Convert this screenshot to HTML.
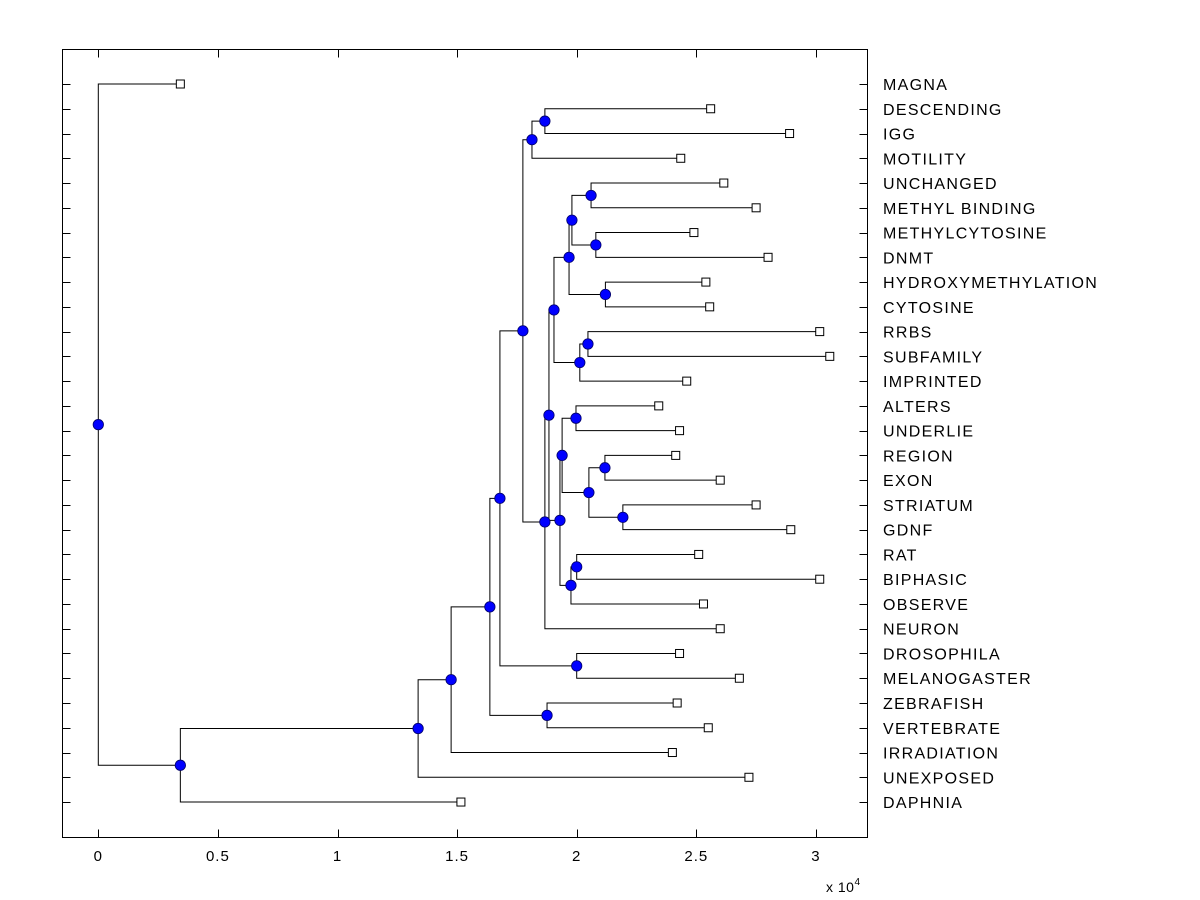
<!DOCTYPE html>
<html><head><meta charset="utf-8"><style>
body{margin:0;background:#fff;}
svg{display:block;font-family:"Liberation Sans",Arial,sans-serif;}
</style></head><body>
<svg id="chart" width="1200" height="900" viewBox="0 0 1200 900">
<rect x="0" y="0" width="1200" height="900" fill="#fff"/>
<g id="ticks"></g>
<g id="tree"></g>
<g id="marks"></g>
<g id="labels"></g>
<rect x="62.5" y="49.5" width="805" height="788" fill="none" stroke="#000" stroke-width="1"/>
<text x="826" y="892" font-size="14" letter-spacing="0.5">x 10<tspan font-size="10" dy="-7">4</tspan></text>
</svg>
<script>
const leafNames=["MAGNA","DESCENDING","IGG","MOTILITY","UNCHANGED","METHYL BINDING","METHYLCYTOSINE","DNMT","HYDROXYMETHYLATION","CYTOSINE","RRBS","SUBFAMILY","IMPRINTED","ALTERS","UNDERLIE","REGION","EXON","STRIATUM","GDNF","RAT","BIPHASIC","OBSERVE","NEURON","DROSOPHILA","MELANOGASTER","ZEBRAFISH","VERTEBRATE","IRRADIATION","UNEXPOSED","DAPHNIA"];
const leafDist=[0.343,2.56,2.89,2.435,2.615,2.75,2.49,2.80,2.54,2.556,3.016,3.058,2.46,2.343,2.43,2.414,2.60,2.75,2.895,2.51,3.016,2.53,2.60,2.43,2.68,2.42,2.55,2.40,2.72,1.516];
const nodeChildren=[[1,2],[30,3],[4,5],[6,7],[32,33],[8,9],[34,35],[10,11],[37,12],[36,38],[13,14],[15,16],[17,18],[41,42],[40,43],[19,20],[45,21],[44,46],[39,47],[48,22],[31,49],[23,24],[50,51],[25,26],[52,53],[54,27],[55,28],[56,29],[0,57]];
const nodeDist=[1.867,1.813,2.06,2.08,1.98,2.12,1.968,2.047,2.013,1.905,1.997,2.118,2.193,2.051,1.939,2.0,1.976,1.93,1.884,1.867,1.775,2.0,1.679,1.876,1.637,1.475,1.337,0.343,0];
const xTicks=[0,0.5,1,1.5,2,2.5,3];
const xTickLabels=["0","0.5","1","1.5","2","2.5","3"];

const NS="http://www.w3.org/2000/svg";
const X0=98.3,XS=239.2,Y0=84,YS=24.76,LEFT=62.5,RIGHT=867.5,TOP=49.5,BOT=837.5;
const xs=v=>X0+v*XS;
const yl=i=>Y0+i*YS;
function mk(tag,attrs,parent){const e=document.createElementNS(NS,tag);for(const k in attrs)e.setAttribute(k,attrs[k]);parent.appendChild(e);return e;}
const gT=document.getElementById('ticks'),gB=document.getElementById('tree'),gM=document.getElementById('marks'),gL=document.getElementById('labels');

leafNames.forEach((n,i)=>{
  const y=Math.round(yl(i))+0.5;
  let t=mk('line',{x1:LEFT,y1:y,x2:LEFT+8,y2:y,stroke:'#000'},gT);
  
  
  t=mk('line',{x1:RIGHT-8,y1:y,x2:RIGHT,y2:y,stroke:'#000'},gT);
  
  
  const tx=mk('text',{x:883,y:yl(i)+6,'font-size':16,'letter-spacing':1.3},gL);
  tx.textContent=n;
  
  
});
xTicks.forEach((v,i)=>{
  const x=Math.round(xs(v))+0.5;
  let t=mk('line',{x1:x,y1:BOT,x2:x,y2:BOT-8,stroke:'#000'},gT);
  
  
  t=mk('line',{x1:x,y1:TOP,x2:x,y2:TOP+8,stroke:'#000'},gT);
  
  
  const tx=mk('text',{x:xs(v),y:861,'font-size':15,'text-anchor':'middle','letter-spacing':1},gT);
  tx.textContent=xTickLabels[i];
  
  
});

const N=leafNames.length;
const posX=[],posY=[];
leafNames.forEach((n,i)=>{posX[i]=xs(leafDist[i]);posY[i]=yl(i);});
nodeChildren.forEach((c,k)=>{const id=N+k;posX[id]=xs(nodeDist[k]);posY[id]=(posY[c[0]]+posY[c[1]])/2;});
nodeChildren.forEach((c,k)=>{
  const id=N+k,x=posX[id];
  const ya=posY[c[0]],yb=posY[c[1]];
  const p=mk('path',{d:`M${posX[c[0]]},${ya}H${x}V${yb}H${posX[c[1]]}`,fill:'none',stroke:'#000','stroke-width':1},gB);
  
  
});
leafNames.forEach((n,i)=>{
  const r=mk('rect',{x:posX[i]-4,y:posY[i]-4,width:8,height:8,fill:'#fff',stroke:'#000'},gM);
  
  
});
nodeChildren.forEach((c,k)=>{
  const id=N+k;
  const ci=mk('circle',{cx:posX[id],cy:posY[id],r:5.2,fill:'#0000ff',stroke:'#00006a','stroke-width':0.8},gM);
  
  
});
</script>
</body></html>
